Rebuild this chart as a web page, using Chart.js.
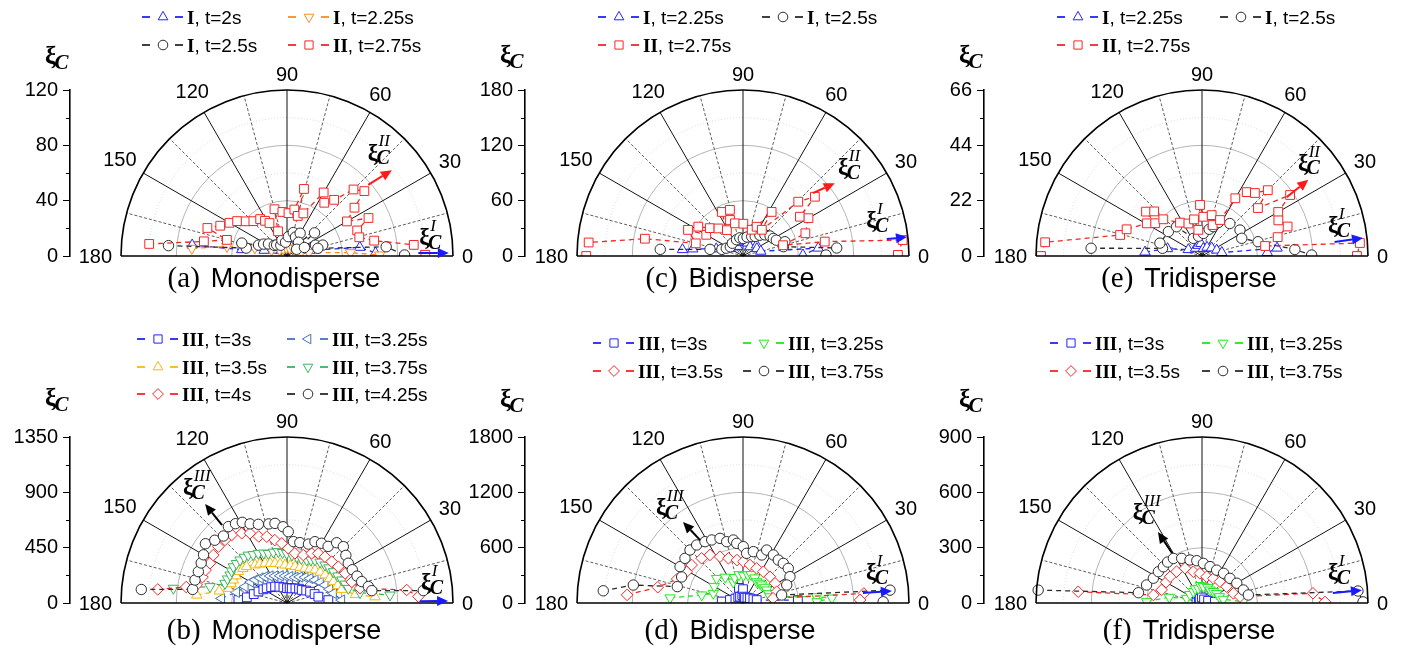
<!DOCTYPE html>
<html>
<head>
<meta charset="utf-8">
<script src="https://cdn.jsdelivr.net/npm/chart.js@4.4.1/dist/chart.umd.min.js"></script>
<style>
  body { margin: 0; background: #fff; width: 1402px; height: 654px; position: relative; overflow: hidden; }
  canvas { position: absolute; }
</style>
</head>
<body>
<canvas id="pa"></canvas>
<canvas id="pc"></canvas>
<canvas id="pe"></canvas>
<canvas id="pb"></canvas>
<canvas id="pd"></canvas>
<canvas id="pf"></canvas>
<script>
// ---- data: [angle (deg), xi_C] pairs ----
const angleTicks = [0, 30, 60, 90, 120, 150, 180];
const radialMax = { a: 120, b: 1350, c: 180, d: 1800, e: 66, f: 900 };

// (a) Monodisperse, regimes I / II
const a_I_t200 = [[173.4,69],[172,33],[166,17],[152,9],[130,6],[105,6],[85,7],[62,7],[42,8],[26,10],[14,17],[6.8,53],[2,64]];
const a_I_t225 = [[175.4,69],[171,44],[166,24],[158,12],[140,7],[118,6],[95,6],[72,6],[50,7],[32,8],[18,11],[9,16],[3,46],[0.6,67]];
const a_I_t250 = [[175,86],[169,30],[164,34],[159,22],[153,19],[147,16],[140,12],[133,11],[120,9],[108,12],[96,10],[86,14],[75,17.5],[66,15],[60,19],[50,13],[40,26],[35,8.5],[26,14],[21,22],[17,27],[14,23],[5.3,72],[0.5,85]];
const a_II_t275 = [[175,100],[170,61],[165,45],[160.6,61],[155.6,53],[150,48],[145,44],[140,39],[134,35],[126,33],[122,30],[118,27],[110,19],[105,35],[96,32],[88,31],[81,34],[75.8,50],[75,30],[69,33],[60,53],[55,47],[50,53],[45,68],[40,73],[35.6,60],[30,50],[25,65],[20,54],[14.5,54],[10,64],[5,92],[0.5,100]];

// (b) Monodisperse, regime III
const b_III_t300 = [[176.5,396],[172,330],[165,280],[158,250],[150,222],[144,204],[135,182],[126,165],[115,146],[103,130],[90,121],[80,124],[72,125],[60,137],[50,152],[41.5,160],[33,186],[26,209],[18,236],[11.4,260],[4,337]];
const b_III_t325 = [[176,534],[168,420],[158.7,366],[150,341],[144,320],[137,298],[130,279],[122,259],[114,241],[104,228],[94,220],[84,216],[72.7,219],[64,236],[55,255],[47,273],[39.4,295],[32,318],[25.3,342],[18,363],[11.8,385],[3,445]];
const b_III_t350 = [[175,737],[170,560],[166,491],[161,480],[156.8,475],[152,470],[147,471],[142,455],[138,442],[130,404],[125,386],[119,369],[113,350],[106.8,336],[100,322],[93,309],[85,305],[77.6,304],[70,308],[62.6,317],[56,333],[49.7,352],[43,368],[36.4,385],[30,400],[24.7,415],[19,436],[14,458],[7,560],[4,718]];
const b_III_t375 = [[172.6,932],[168,640],[162.4,529],[158,522],[153.8,516],[150,520],[146,527],[142,522],[137.5,518],[133,509],[129,501],[125,480],[120,466],[115,448],[110.6,431],[105,428],[99.6,423],[95,412],[90.4,404],[84,392],[78,385],[72,380],[65.4,385],[61,400],[57,417],[51,428],[45,437],[40,445],[34,455],[28,468],[22.8,483],[18,498],[13.4,513],[8,600],[4.4,840]];
const b_III_t400 = [[174,1057],[171,830],[168.7,749],[163,719],[158,714],[152.7,705],[147,715],[140.6,722],[134.5,719],[129,713],[123,676],[118,642],[113,588],[107,564],[101,521],[95,487],[88.6,445],[81,409],[71.2,412],[63.6,451],[57.8,477],[50.6,487],[42.8,495],[35.3,511],[27,530],[18,554],[11.4,606],[6.2,979],[2.8,1070]];
const b_III_t425 = [[174.7,1190],[171.8,775],[166,771],[160.5,765],[155,770],[150,784],[144,820],[139,778],[133.5,751],[127.5,783],[123,769],[119,750],[115,710],[110,681],[103,660],[98.6,655],[93,621],[89,580],[84,502],[78,502],[70,510],[65.5,548],[60,561],[54,569],[50.5,635],[45,648],[39,616],[33,594],[27,596],[21,610],[16,632],[11.4,675],[8.3,697],[5.2,1113]];

// (c) Bidisperse, regimes I / II
const c_I_t225 = [[174,66],[172,55],[165,30],[150,16],[135,14],[120,12],[105,15],[95,18],[85,16],[70,15],[53,12.6],[39,19],[28,17],[15,20],[6,82],[1,65]];
const c_I_t250 = [[175.4,90],[168.6,36.5],[162.6,24],[155,20],[144,17],[130,18],[111.6,19],[100,20],[89,19],[78,21],[65.8,23],[58,25],[51,29],[44,33],[36.5,36.5],[30,38],[25.4,40],[18.8,48],[13,45],[4.9,102],[0.7,90]];
const c_II_t275 = [[180,170],[175,168],[170,108],[165,53],[154.6,66],[150,46],[146.7,58],[140,47],[131.7,40],[122,33],[115.7,53],[109.8,41.5],[105.8,52],[103.8,36.5],[89.4,35],[71.6,30],[65,35],[57,57],[54.3,35],[44.5,84],[39.5,101],[34.6,75],[30,82],[20,72],[15,45],[10,90],[5.7,174],[0.4,168]];

// (d) Bidisperse, regime III
const d_III_t300 = [[176,231],[167,145],[150,95],[130,80],[115,76],[105,170],[95,85],[90,150],[80,70],[69,62],[50,75],[33.7,91],[20,120],[12,152],[3,596]];
const d_III_t325 = [[176,792],[169,456],[162,339],[150,360],[137,391],[124.5,340],[115,250],[108,290],[98,310],[89,300],[80,310],[74,320],[65,300],[57,275],[50,280],[44,282],[36,290],[28.8,293],[20,296],[13,300],[4.9,802],[3.2,965],[1,803]];
const d_III_t350 = [[176,1260],[169.5,940],[160,760],[151,698],[143.5,693],[132.8,660],[124.5,632],[116.4,561],[108,510],[98,470],[89.5,448],[79.6,419],[68.5,404],[57,404],[44.3,408],[31.6,408],[18.6,386],[9,330],[4.5,1315],[1.5,1270]];
const d_III_t375 = [[175,1521],[170.7,1205],[166,734],[157,723],[150,788],[142.4,794],[135,813],[128.6,805],[121.8,782],[116.4,763],[109.6,744],[104.9,688],[98.7,691],[96,650],[89.7,611],[85.8,540],[78.6,568],[68.7,559],[65.9,629],[57.7,616],[50.6,603],[44.5,613],[37.4,618],[29.3,584],[22.4,513],[11.7,428],[5,1600],[0.5,1520]];

// (e) Tridisperse, regimes I / II
const e_I_t225 = [[176,22.7],[168,14],[155,6],[130,4],[110,4.5],[95,5],[80,3],[60,4],[40,5],[22,6.3],[10,8],[6,30],[3,26]];
const e_I_t250 = [[176,44.2],[169,16],[163,17.5],[144,16.5],[131,15.4],[116,7.8],[100,8],[86.6,9],[75,11],[69,12.5],[64,14.8],[49.4,17],[34.4,18.3],[24,17.3],[14.3,23],[4,37],[0.5,43.6]];
const e_II_t275 = [[180,64],[175,62.6],[165.6,33.6],[160.5,31.8],[149.4,25.5],[145,22.7],[141.6,28.4],[137,26],[136.5,21.2],[123.4,15.9],[112.7,14],[102.3,14.9],[98,10.5],[92.2,20.3],[88,15.6],[76.7,16.7],[71,13],[63.4,16],[60,26.5],[55,31],[50,32.7],[45,37],[40.6,29.3],[34.7,42.6],[30,35],[25,33.5],[19,36],[14,31],[9,25.4],[4.7,63],[0,61.6]];

// (f) Tridisperse, regime III
const f_III_t300 = [[175,30],[150,20],[120,25],[92,30],[60,22],[20,35],[5,70]];
const f_III_t325 = [[178.6,300],[170,180],[163,87],[145,80],[127,77],[115,85],[104,82],[95,95],[85,89],[70,90],[58,83],[45,88],[33,95],[20,100],[10,117],[1.8,224]];
const f_III_t350 = [[174.8,674],[170.7,267],[162,230],[150,225],[140.5,224],[129,219],[116,210],[105.5,176],[94,161],[80,145],[65,147],[50,151],[33.5,160],[17,178],[9.5,209],[5,604],[0.5,667]];
const f_III_t375 = [[175.5,891],[170.8,349],[162,316],[153,296],[144.3,291],[136.8,287],[130,290],[122.7,287],[114.5,266],[105.6,242],[97,231],[88,215],[77.6,202],[66,195],[54,199],[41.4,202],[29.6,217],[17.5,235],[9.8,255],[4.4,848],[0.4,873]];

// ---- styles ----
const BLUE = '#2323f5', ORANGE = '#ff8a1c', BLACK = '#2b2b2b', RED = '#f52525';
const STEEL = '#4272b8', GOLD = '#f8b908', GREEN_MID = '#3cb45a', GREEN_LIME = '#1fe81f';
const RADIUS = { circle: 5.2, rect: 6.2, rectRot: 5.8, triangle: 6 };
const SANS = '"Liberation Sans", Arial, sans-serif';
const SERIF = '"Liberation Serif", "Times New Roman", serif';
const DEG = Math.PI / 180;
const R_PX = 166;

const panels = [
  { id: 'a', left: 0, top: 0, w: 475, h: 300, axisX: 70, cx: 287, cy: 256, title: ['(a)', 'Monodisperse'],
    legendX: [142, 288], legendY: [17, 45], labelY: 69, titleY: 287,
    series: [
      { data: a_I_t200, regime: 'I', t: 't=2s', style: 'triangle', rot: 0, color: BLUE },
      { data: a_I_t225, regime: 'I', t: 't=2.25s', style: 'triangle', rot: 180, color: ORANGE },
      { data: a_I_t250, regime: 'I', t: 't=2.5s', style: 'circle', rot: 0, color: BLACK },
      { data: a_II_t275, regime: 'II', t: 't=2.75s', style: 'rect', rot: 0, color: RED }
    ],
    arrows: [{ from: [41.2, 78], to: [39.3, 98], color: '#ff1a1a', sup: 'II', at: [47.4, 99] },
             { from: [1.3, 95], to: [1.1, 117], color: '#1a1aff', sup: 'I', at: [6.3, 105] }] },
  { id: 'c', left: 462, top: 0, w: 475, h: 300, axisX: 525, cx: 743, cy: 256, title: ['(c)', 'Bidisperse'],
    legendX: [598, 762], legendY: [17, 45], labelY: 68, titleY: 287,
    series: [
      { data: c_I_t225, regime: 'I', t: 't=2.25s', style: 'triangle', rot: 0, color: BLUE },
      { data: c_I_t250, regime: 'I', t: 't=2.5s', style: 'circle', rot: 0, color: BLACK },
      { data: c_II_t275, regime: 'II', t: 't=2.75s', style: 'rect', rot: 0, color: RED }
    ],
    arrows: [{ from: [42, 102], to: [38.4, 127], color: '#ff1a1a', sup: 'II', at: [38.8, 149] },
             { from: [6.7, 157], to: [6.6, 179], color: '#1a1aff', sup: 'I', at: [13.7, 151] }] },
  { id: 'e', left: 920, top: 0, w: 482, h: 300, axisX: 984, cx: 1202, cy: 256, title: ['(e)', 'Tridisperse'],
    legendX: [1057, 1220], legendY: [17, 45], labelY: 68, titleY: 287,
    series: [
      { data: e_I_t225, regime: 'I', t: 't=2.25s', style: 'triangle', rot: 0, color: BLUE },
      { data: e_I_t250, regime: 'I', t: 't=2.5s', style: 'circle', rot: 0, color: BLACK },
      { data: e_II_t275, regime: 'II', t: 't=2.75s', style: 'rect', rot: 0, color: RED }
    ],
    arrows: [{ from: [34.8, 41], to: [35.6, 52], color: '#ff1a1a', sup: 'II', at: [40, 56] },
             { from: [6, 53], to: [6.4, 64.4], color: '#1a1aff', sup: 'I', at: [11.5, 56] }] },
  { id: 'b', left: 0, top: 300, w: 475, h: 354, axisX: 70, cx: 287, cy: 603, title: ['(b)', 'Monodisperse'],
    legendX: [137, 287], legendY: [339, 367, 394], labelY: 411, titleY: 639,
    series: [
      { data: b_III_t300, regime: 'III', t: 't=3s', style: 'rect', rot: 0, color: BLUE },
      { data: b_III_t325, regime: 'III', t: 't=3.25s', style: 'triangle', rot: 270, color: STEEL },
      { data: b_III_t350, regime: 'III', t: 't=3.5s', style: 'triangle', rot: 0, color: GOLD },
      { data: b_III_t375, regime: 'III', t: 't=3.75s', style: 'triangle', rot: 180, color: GREEN_MID },
      { data: b_III_t400, regime: 'III', t: 't=4s', style: 'rectRot', rot: 0, color: RED },
      { data: b_III_t425, regime: 'III', t: 't=4.25s', style: 'circle', rot: 0, color: BLACK }
    ],
    arrows: [{ from: [129.8, 825], to: [129.6, 1045], color: '#000', sup: 'III', at: [129.2, 1185] },
             { from: [0.8, 1081], to: [0.7, 1310], color: '#1a1aff', sup: 'I', at: [7, 1196] }] },
  { id: 'd', left: 462, top: 300, w: 475, h: 354, axisX: 525, cx: 743, cy: 603, title: ['(d)', 'Bidisperse'],
    legendX: [593, 743], legendY: [343, 371], labelY: 412, titleY: 639,
    series: [
      { data: d_III_t300, regime: 'III', t: 't=3s', style: 'rect', rot: 0, color: BLUE },
      { data: d_III_t325, regime: 'III', t: 't=3.25s', style: 'triangle', rot: 180, color: GREEN_LIME },
      { data: d_III_t350, regime: 'III', t: 't=3.5s', style: 'rectRot', rot: 0, color: RED },
      { data: d_III_t375, regime: 'III', t: 't=3.75s', style: 'circle', rot: 0, color: BLACK }
    ],
    arrows: [{ from: [124.3, 825], to: [126.5, 1093], color: '#000', sup: 'III', at: [128.9, 1295] },
             { from: [4.8, 1305], to: [4.6, 1620], color: '#1a1aff', sup: 'I', at: [11.7, 1494] }] },
  { id: 'f', left: 920, top: 300, w: 482, h: 354, axisX: 984, cx: 1202, cy: 603, title: ['(f)', 'Tridisperse'],
    legendX: [1050, 1202], legendY: [343, 371], labelY: 412, titleY: 639,
    series: [
      { data: f_III_t300, regime: 'III', t: 't=3s', style: 'rect', rot: 0, color: BLUE },
      { data: f_III_t325, regime: 'III', t: 't=3.25s', style: 'triangle', rot: 180, color: GREEN_LIME },
      { data: f_III_t350, regime: 'III', t: 't=3.5s', style: 'rectRot', rot: 0, color: RED },
      { data: f_III_t375, regime: 'III', t: 't=3.75s', style: 'circle', rot: 0, color: BLACK }
    ],
    arrows: [{ from: [121, 316], to: [121.8, 453], color: '#000', sup: 'III', at: [123, 569] },
             { from: [4.4, 712], to: [4.6, 870], color: '#1a1aff', sup: 'I', at: [11.5, 764] }] }
];

function toXY(pts) {
  return pts.map(([t, r]) => ({ x: r * Math.cos(t * DEG), y: r * Math.sin(t * DEG) }));
}

function markerPath(ctx, style, rot, r, x, y) {
  ctx.beginPath();
  if (style === 'circle') {
    ctx.arc(x, y, r, 0, 2 * Math.PI);
  } else if (style === 'rect') {
    const s = Math.SQRT1_2 * r;
    ctx.rect(x - s, y - s, 2 * s, 2 * s);
  } else if (style === 'rectRot') {
    ctx.moveTo(x, y - r); ctx.lineTo(x + r, y); ctx.lineTo(x, y + r); ctx.lineTo(x - r, y);
    ctx.closePath();
  } else {
    let a = rot * DEG;
    for (let k = 0; k < 3; k++) {
      const px = x + Math.sin(a) * r, py = y - Math.cos(a) * r;
      if (k) ctx.lineTo(px, py); else ctx.moveTo(px, py);
      a += 2 * Math.PI / 3;
    }
    ctx.closePath();
  }
}

// xi_C with optional superscript, (x, y) = left / baseline
function drawXi(ctx, x, y, sup, size) {
  ctx.fillStyle = '#000';
  ctx.textAlign = 'left';
  ctx.textBaseline = 'alphabetic';
  ctx.font = 'bold ' + size + 'px ' + SERIF;
  ctx.fillText('\u03BE', x, y - size * 0.2);
  const w = ctx.measureText('\u03BE').width;
  ctx.font = 'italic bold ' + Math.round(size * 0.85) + 'px ' + SERIF;
  ctx.fillText('C', x + w * 0.85, y);
  if (sup) {
    ctx.font = 'italic ' + Math.round(size * 0.72) + 'px ' + SERIF;
    ctx.fillText(sup, x + w * 1.05, y - size * 0.78);
  }
}

function gridPlugin(p) {
  return {
    id: 'polarGrid',
    beforeDatasetsDraw(chart) {
      const { ctx, scales: { x, y } } = chart;
      const rMax = radialMax[p.id];
      const cx = x.getPixelForValue(0), cy = y.getPixelForValue(0);
      const R = x.getPixelForValue(rMax) - cx;
      ctx.save();
      // light dotted rings
      ctx.strokeStyle = '#cfcfcf'; ctx.lineWidth = 0.8; ctx.setLineDash([1, 2]);
      [1, 3, 5].forEach(k => { ctx.beginPath(); ctx.arc(cx, cy, R * k / 6, Math.PI, 2 * Math.PI); ctx.stroke(); });
      // gray solid rings
      ctx.setLineDash([]); ctx.strokeStyle = '#b4b4b4'; ctx.lineWidth = 1;
      [2, 4].forEach(k => { ctx.beginPath(); ctx.arc(cx, cy, R * k / 6, Math.PI, 2 * Math.PI); ctx.stroke(); });
      // dotted spokes every 30 (offset 15)
      ctx.strokeStyle = '#333'; ctx.lineWidth = 0.8; ctx.setLineDash([3, 2]);
      for (let t = 15; t < 180; t += 30) {
        ctx.beginPath(); ctx.moveTo(cx, cy);
        ctx.lineTo(cx + R * Math.cos(t * DEG), cy - R * Math.sin(t * DEG)); ctx.stroke();
      }
      // solid spokes
      ctx.setLineDash([]); ctx.strokeStyle = '#111'; ctx.lineWidth = 1;
      for (let t = 30; t < 180; t += 30) {
        ctx.beginPath(); ctx.moveTo(cx, cy);
        ctx.lineTo(cx + R * Math.cos(t * DEG), cy - R * Math.sin(t * DEG)); ctx.stroke();
      }
      ctx.restore();
    },
    afterDatasetsDraw(chart) {
      const { ctx, scales: { x, y } } = chart;
      const rMax = radialMax[p.id];
      const cx = x.getPixelForValue(0), cy = y.getPixelForValue(0);
      const R = x.getPixelForValue(rMax) - cx;
      ctx.save();
      ctx.strokeStyle = '#000'; ctx.lineWidth = 1.6;
      ctx.beginPath(); ctx.arc(cx, cy, R, Math.PI, 2 * Math.PI); ctx.stroke();
      ctx.beginPath(); ctx.moveTo(cx - R, cy); ctx.lineTo(cx + R, cy); ctx.stroke();
      ctx.restore();
    }
  };
}

function decorPlugin(p) {
  return {
    id: 'panelDecor',
    afterDraw(chart) {
      const { ctx, scales: { x, y }, chartArea } = chart;
      const rMax = radialMax[p.id];
      const cx = x.getPixelForValue(0), cy = y.getPixelForValue(0);
      const R = x.getPixelForValue(rMax) - cx;
      const ox = p.left, oy = p.top;
      const pol = (t, r) => [x.getPixelForValue(r * Math.cos(t * DEG)), y.getPixelForValue(r * Math.sin(t * DEG))];
      ctx.save();

      // minor ticks on the radial axis
      ctx.strokeStyle = '#000'; ctx.lineWidth = 1;
      for (let k = 1; k < 6; k += 2) {
        const py = Math.round(y.getPixelForValue(rMax * k / 6)) + 0.5;
        ctx.beginPath(); ctx.moveTo(chartArea.left - 4, py); ctx.lineTo(chartArea.left, py); ctx.stroke();
      }

      // angle labels
      ctx.font = '20px ' + SANS; ctx.fillStyle = '#000';
      ctx.textAlign = 'center'; ctx.textBaseline = 'middle';
      angleTicks.forEach(t => {
        const s = String(t);
        const w = ctx.measureText(s).width;
        const c = Math.cos(t * DEG), sn = Math.sin(t * DEG);
        const d = R + 9 + Math.abs(c) * w / 2 + sn * 7;
        ctx.fillText(s, cx + d * c, cy - d * sn + 1);
      });

      // axis label
      drawXi(ctx, p.axisX - 25 - ox, p.labelY - oy, '', 25);

      // arrows and their labels
      p.arrows.forEach(a => {
        const [x1, y1] = pol(a.from[0], a.from[1]);
        const [x2, y2] = pol(a.to[0], a.to[1]);
        const ang = Math.atan2(y2 - y1, x2 - x1);
        const hl = 11, hw = 5;
        const bx = x2 - hl * Math.cos(ang), by = y2 - hl * Math.sin(ang);
        ctx.strokeStyle = a.color; ctx.fillStyle = a.color; ctx.lineWidth = 2;
        ctx.beginPath(); ctx.moveTo(x1, y1); ctx.lineTo(bx, by); ctx.stroke();
        ctx.beginPath(); ctx.moveTo(x2, y2);
        ctx.lineTo(bx + hw * Math.sin(ang), by - hw * Math.cos(ang));
        ctx.lineTo(bx - hw * Math.sin(ang), by + hw * Math.cos(ang));
        ctx.closePath(); ctx.fill();
        const [lx, ly] = pol(a.at[0], a.at[1]);
        drawXi(ctx, lx - 12, ly + 9, a.sup, 23);
      });

      // legend
      p.series.forEach((s, i) => {
        const lx = p.legendX[i % 2] - ox, ly = p.legendY[Math.floor(i / 2)] - oy;
        ctx.strokeStyle = s.color; ctx.lineWidth = 1.8; ctx.setLineDash([]);
        ctx.beginPath(); ctx.moveTo(lx, ly); ctx.lineTo(lx + 8, ly); ctx.stroke();
        ctx.beginPath(); ctx.moveTo(lx + 33, ly); ctx.lineTo(lx + 41, ly); ctx.stroke();
        ctx.fillStyle = '#fff'; ctx.lineWidth = 1;
        markerPath(ctx, s.style, s.rot, RADIUS[s.style] - 0.4, lx + 21, ly);
        ctx.fill(); ctx.stroke();
        ctx.fillStyle = '#000'; ctx.textAlign = 'left'; ctx.textBaseline = 'alphabetic';
        ctx.font = 'bold 19px ' + SERIF;
        ctx.fillText(s.regime, lx + 45, ly + 6.5);
        const rw = ctx.measureText(s.regime).width;
        ctx.font = '19px ' + SANS;
        ctx.fillText(', ' + s.t, lx + 45 + rw, ly + 6.5);
      });

      // panel title
      ctx.textBaseline = 'alphabetic'; ctx.textAlign = 'left'; ctx.fillStyle = '#000';
      ctx.font = '29px ' + SERIF;
      const w1 = ctx.measureText(p.title[0]).width;
      ctx.font = '27px ' + SANS;
      const w2 = ctx.measureText(p.title[1]).width;
      const gap = 11;
      const start = (p.cx - 13 - ox) - (w1 + gap + w2) / 2;
      ctx.font = '29px ' + SERIF;
      ctx.fillText(p.title[0], start, p.titleY - oy);
      ctx.font = '27px ' + SANS;
      ctx.fillText(p.title[1], start + w1 + gap, p.titleY - oy);

      ctx.restore();
    }
  };
}

panels.forEach(p => {
  const canvas = document.getElementById('p' + p.id);
  canvas.width = p.w; canvas.height = p.h;
  canvas.style.left = p.left + 'px'; canvas.style.top = p.top + 'px';
  const rMax = radialMax[p.id];
  const AXIS_W = 60;

  new Chart(canvas, {
    type: 'scatter',
    data: {
      datasets: p.series.map((s, i) => ({
        label: s.regime + ', ' + s.t,
        data: toXY(s.data),
        showLine: true,
        borderColor: s.color,
        borderWidth: 1.3,
        borderDash: [5, 4],
        tension: 0,
        pointStyle: s.style,
        pointRotation: s.rot,
        pointRadius: RADIUS[s.style],
        pointBackgroundColor: '#fff',
        pointBorderColor: s.color,
        pointBorderWidth: 1,
        order: -i
      }))
    },
    options: {
      responsive: false,
      animation: false,
      devicePixelRatio: 1,
      layout: {
        autoPadding: false,
        padding: {
          left: p.axisX - p.left - AXIS_W,
          right: p.left + p.w - (p.cx + R_PX),
          top: p.cy - R_PX - p.top,
          bottom: p.top + p.h - p.cy
        }
      },
      plugins: { legend: { display: false }, tooltip: { enabled: false } },
      scales: {
        x: {
          type: 'linear', display: false,
          min: -rMax * (p.cx - p.axisX) / R_PX, max: rMax
        },
        y: {
          type: 'linear', position: 'left',
          min: 0, max: rMax,
          afterFit: scale => { scale.width = AXIS_W; },
          ticks: {
            stepSize: rMax / 3, autoSkip: false, padding: 5, color: '#000',
            font: { family: 'Liberation Sans', size: 20 },
            callback: v => String(v)
          },
          grid: { drawOnChartArea: false, drawTicks: true, tickLength: 7, color: '#000', tickWidth: 1 },
          border: { display: true, color: '#000', width: 1.6 }
        }
      }
    },
    plugins: [gridPlugin(p), decorPlugin(p)]
  });
});
</script>
</body>
</html>
